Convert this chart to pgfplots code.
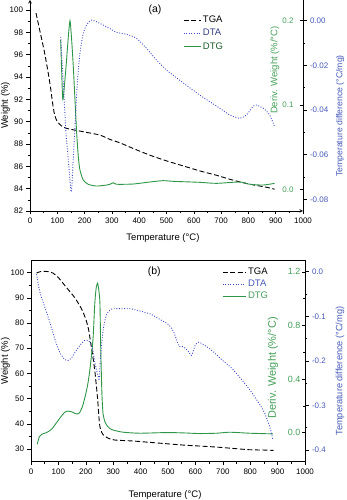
\documentclass[border=0pt]{standalone}
\usepackage{fontspec}
\setmainfont{Liberation Sans}
\usepackage{pgfplots}
\usepackage{pgfplotstable}
\pgfplotsset{compat=1.18}

\definecolor{dtg}{RGB}{46,150,72}
\definecolor{dta}{RGB}{60,72,200}
\definecolor{dtgtext}{RGB}{70,160,90}
\definecolor{dtatext}{RGB}{70,90,185}

% ---------- sample (a) ----------
\pgfplotstableread{
T W
22 99.73
36.6 98.08
51.2 96.44
65.9 94.49
75.6 92.99
82.9 91.64
90.2 90.60
100 90.0
115.9 89.61
134 89.40
195 89.10
256 88.80
293 88.41
329 88.11
378 87.60
439 87.00
500 86.49
561 86.04
622 85.59
683 85.20
744 84.76
805 84.40
866 84.13
896 83.95
}\tgaA

\pgfplotstableread{
T G
112.3 0.177
116 0.140
119.6 0.108
123 0.112
131.9 0.145
140.4 0.181
146.5 0.200
152.6 0.177
158.7 0.145
164.8 0.106
171 0.0664
177 0.0387
183 0.0229
195 0.011
213.7 0.0059
244 0.0039
281 0.0051
293 0.006
305 0.0078
317 0.006
378 0.0063
439 0.0087
488 0.0103
524 0.0095
622 0.0083
683 0.0071
768 0.0087
805 0.006
854 0.0051
896 0.0071
}\dtgA

\pgfplotstableread{
T D
112.3 -0.0072
122 -0.0280
131.9 -0.0505
140.4 -0.0624
149 -0.0751
152.6 -0.0758
158.7 -0.0609
164.8 -0.0475
173.3 -0.0280
183 -0.0146
195 -0.0056
207.5 -0.0019
226 0.0003
256 -0.0012
290.6 -0.0034
317 -0.0052
354 -0.0061
390 -0.0079
427 -0.0124
463 -0.0176
500 -0.0221
561 -0.0278
622 -0.0333
683 -0.0382
732 -0.0422
768 -0.0437
793 -0.0422
823 -0.0378
854 -0.0392
878 -0.0422
896 -0.0475
}\dtaA

% ---------- sample (b) ----------
\pgfplotstableread{
T W
20 99.8
35 100.4
60 100.4
80 99.8
100 98.0
130 94.0
160 90.0
185 85.5
200 81.5
210 77.5
221 70
228 65
234 60
243 50
250 40
256 37.2
264 35.6
280 34.4
305 33.6
373 33.2
434 32.66
494 32.13
555 31.6
616 31.2
677 30.8
737 30.27
798 29.74
859 29.6
885 29.47
}\tgaB

\pgfplotstableread{
T G
23 -0.0875
30.4 -0.03
38.9 -0.0125
57.1 0.0
75.3 0.025
93.6 0.075
111.8 0.125
124 0.1525
136 0.16
148 0.155
164 0.14
176 0.145
188 0.195
200 0.29
208 0.37
215 0.47
222 0.60
227 0.72
233 0.97
238 1.08
243 1.115
247 1.07
251.5 0.97
254 0.68
256 0.50
259 0.28
263 0.14
270 0.08
280 0.045
292 0.025
306 0.015
336.6 0.0025
397 -0.005
494.5 0.0
555 -0.0025
616 -0.0075
677 -0.005
725 0.0025
798 -0.005
883 -0.01
}\dtgB

\pgfplotstableread{
T D
20.7 -0.0053
24.3 -0.0203
32.8 -0.0466
51 -0.0805
69.3 -0.1143
87.5 -0.1519
105.7 -0.182
124 -0.197
136 -0.199
148 -0.1932
164 -0.178
178.6 -0.165
195 -0.1545
205 -0.1540
215 -0.1580
224.8 -0.172
232 -0.200
239 -0.220
246 -0.238
249 -0.242
254 -0.189
263.7 -0.129
276 -0.0955
294 -0.084
324 -0.0827
354 -0.0827
373 -0.0842
434 -0.0945
470 -0.1068
500.6 -0.118
519 -0.133
531 -0.152
540.7 -0.168
555 -0.168
573.5 -0.178
585.7 -0.188
598 -0.167
610 -0.158
628 -0.163
652.5 -0.173
677 -0.186
695 -0.197
737.5 -0.2195
798 -0.2647
847 -0.31
871 -0.347
883 -0.377
}\dtaB

\pgfplotsset{
  tg base/.style={
    scale only axis, xmin=0, xmax=1000, clip=false,
    scaled ticks=false,
    /pgf/number format/assume math mode=true,
    /pgf/number format/1000 sep={},
    tick label style={font=\fontsize{8}{9.6}\selectfont},
    label style={font=\fontsize{9.5}{11}\selectfont},
    major tick length=3.5pt, minor tick length=2pt,
    axis line style={-, line width=0.6pt},
    every tick/.style={black, line width=0.5pt},
  },
  tga line/.style={black, line width=0.9pt, dash pattern=on 5pt off 2.5pt},
  dta line/.style={dta, line width=0.9pt, dash pattern=on 0.9pt off 1.7pt},
  dtg line/.style={dtg, line width=0.9pt},
  green side/.style={
    hide x axis, axis y line*=right, tick align=inside,
    y axis line style={black},
    yticklabel style={anchor=east, text=dtgtext,
      /pgf/number format/fixed, /pgf/number format/fixed zerofill,
      /pgf/number format/precision=1},
  },
  blue side/.style={
    hide x axis, axis y line*=right, tick align=outside,
    y axis line style={black},
    yticklabel style={text=dtatext},
  },
}

\begin{document}
\begin{tikzpicture}
\path[use as bounding box] (0,0) rectangle (346pt,500pt);

% ===================== (a) =====================
\begin{axis}[tg base, at={(30pt,289pt)}, anchor=south west,
  width=273pt, height=211pt,
  axis x line=bottom, axis y line=left, tick align=outside,
  ymin=82, ymax=100.9,
  xtick={0,100,...,1000}, minor x tick num=1,
  ytick={82,84,...,100}, minor y tick num=1,
  xlabel={Temperature (°C)}, ylabel={Weight (\%)},
  xlabel style={at={(axis description cs:0.487,-0.128)}, anchor=center},
  ylabel style={at={(axis description cs:-0.0897,0.5)}, anchor=center},
]
\addplot[tga line, smooth, tension=0.4] table[x=T, y=W] {\tgaA};
\node[font=\fontsize{10.5}{12}\selectfont] at (rel axis cs:0.458,0.953) {(a)};
\end{axis}

\begin{axis}[tg base, green side, at={(30pt,289pt)}, anchor=south west,
  width=273pt, height=211pt,
  ymin=-0.0257, ymax=0.2246, ytick={0,0.1,0.2},
  yticklabel style={xshift=-6pt},
]
\addplot[dtg line, smooth, tension=0.4] table[x=T, y=G] {\dtgA};
\node[rotate=90, text=dtgtext, font=\fontsize{9.5}{11}\selectfont]
  at (rel axis cs:0.897,0.668) {Deriv. Weight (\%/°C)};
\end{axis}

\begin{axis}[tg base, blue side, at={(30pt,289pt)}, anchor=south west,
  width=273pt, height=211pt,
  ymin=-0.0852, ymax=0.00927,
  ytick={-0.08,-0.06,-0.04,-0.02,0}, minor y tick num=1,
  yticklabel style={/pgf/number format/fixed, /pgf/number format/fixed zerofill,
    /pgf/number format/precision=2},
  legend style={at={(0.56,0.934)}, anchor=north west, draw=none, fill=none,
    font=\fontsize{9.5}{11}\selectfont, row sep=1.2pt, inner sep=0pt},
  legend cell align=left,
  legend image code/.code={\draw[#1] (0pt,0pt) -- (17pt,0pt);},
]
\addlegendimage{tga line}
\addlegendentry{TGA}
\addlegendimage{dta line}
\addlegendentry[text=dtatext!70!black]{DTA}
\addlegendimage{dtg line}
\addlegendentry[text=dtg!60!black]{DTG}
\addplot[dta line, smooth, tension=0.4, forget plot] table[x=T, y=D] {\dtaA};
\node[rotate=90, text=dtatext, font=\fontsize{8.7}{10}\selectfont]
  at (rel axis cs:1.136,0.45) {Temperature difference (°C/mg)};
\end{axis}

% ===================== (b) =====================
\begin{axis}[tg base, at={(31pt,38.3pt)}, anchor=south west,
  width=274pt, height=201pt,
  tick pos=left, tick align=outside,
  ymin=25, ymax=104.7,
  xtick={0,100,...,1000}, minor x tick num=1,
  ytick={30,40,...,100}, minor y tick num=1,
  xlabel={Temperature (°C)}, ylabel={Weight (\%)},
  xlabel style={at={(axis description cs:0.489,-0.166)}, anchor=center},
  ylabel style={at={(axis description cs:-0.093,0.5)}, anchor=center},
]
\addplot[tga line, smooth, tension=0.4] table[x=T, y=W] {\tgaB};
\node[font=\fontsize{10.5}{12}\selectfont] at (rel axis cs:0.45,0.945) {(b)};
\end{axis}

\begin{axis}[tg base, green side, at={(31pt,38.3pt)}, anchor=south west,
  width=274pt, height=201pt,
  ymin=-0.2175, ymax=1.2825, ytick={0,0.4,0.8,1.2}, minor y tick num=1,
  yticklabel style={xshift=-1pt, font=\fontsize{9}{10.8}\selectfont},
]
\addplot[dtg line, smooth, tension=0.4] table[x=T, y=G] {\dtgB};
\node[rotate=90, text=dtgtext, font=\fontsize{11}{13}\selectfont]
  at (rel axis cs:0.883,0.466) {Deriv. Weight (\%/°C)};
\end{axis}

\begin{axis}[tg base, blue side, at={(31pt,38.3pt)}, anchor=south west,
  width=274pt, height=201pt,
  ymin=-0.4263, ymax=0.0248,
  ytick={-0.4,-0.3,-0.2,-0.1,0}, minor y tick num=1,
  yticklabel style={/pgf/number format/fixed, /pgf/number format/fixed zerofill,
    /pgf/number format/precision=1},
  legend style={at={(0.697,0.975)}, anchor=north west, draw=none, fill=none,
    font=\fontsize{9.5}{11}\selectfont, row sep=0pt, inner sep=0pt},
  legend cell align=left,
  legend image code/.code={\draw[#1] (0pt,0pt) -- (23pt,0pt);},
]
\addlegendimage{tga line}
\addlegendentry{TGA}
\addlegendimage{dta line}
\addlegendentry[text=dtatext]{DTA}
\addlegendimage{dtg line}
\addlegendentry[text=dtgtext]{DTG}
\addplot[dta line, smooth, tension=0.4, forget plot] table[x=T, y=D] {\dtaB};
\node[rotate=90, text=dtatext, font=\fontsize{9.2}{11}\selectfont]
  at (rel axis cs:1.128,0.451) {Temperature difference (°C/mg)};
\end{axis}

\end{tikzpicture}
\end{document}
